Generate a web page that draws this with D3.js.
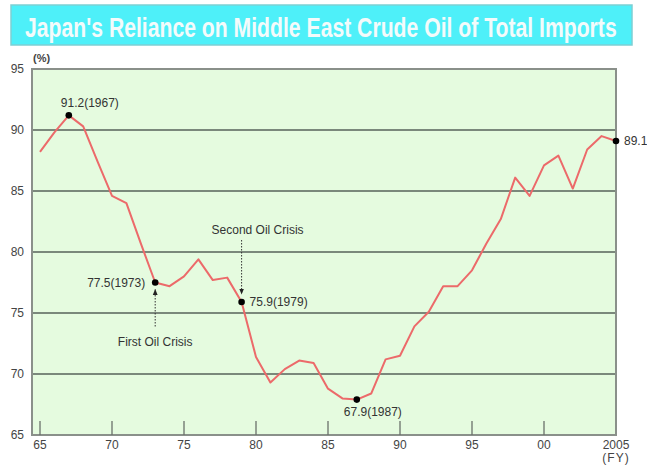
<!DOCTYPE html>
<html>
<head>
<meta charset="utf-8">
<script src="https://cdn.jsdelivr.net/npm/d3@7"></script>
<style>
  html, body { margin: 0; padding: 0; background: #fff; }
  #chart { width: 647px; height: 467px; }
</style>
</head>
<body>
<div id="chart"></div>
<script>
const years = [1965, 1966, 1967, 1968, 1969, 1970, 1971, 1972, 1973, 1974,
  1975, 1976, 1977, 1978, 1979, 1980, 1981, 1982, 1983, 1984,
  1985, 1986, 1987, 1988, 1989, 1990, 1991, 1992, 1993, 1994,
  1995, 1996, 1997, 1998, 1999, 2000, 2001, 2002, 2003, 2004, 2005];
const reliance = [88.2, 89.8, 91.2, 90.3, 87.4, 84.6, 84.0, 80.7, 77.5, 77.2,
  78.0, 79.4, 77.7, 77.9, 75.9, 71.4, 69.3, 70.4, 71.1, 70.9,
  68.8, 68.0, 67.9, 68.4, 71.2, 71.5, 73.9, 75.1, 77.2, 77.2,
  78.5, 80.7, 82.7, 86.1, 84.6, 87.1, 87.9, 85.2, 88.4, 89.5, 89.1];
const xTicks = [1965, 1970, 1975, 1980, 1985, 1990, 1995, 2000, 2005];
const xTickLabels = ['65', '70', '75', '80', '85', '90', '95', '00', '2005'];
const yTicks = [65, 70, 75, 80, 85, 90, 95];
// labelled points: year, text, side
const callouts = [
  { year: 1967, text: '91.2(1967)', pos: 'top' },
  { year: 1973, text: '77.5(1973)', pos: 'left' },
  { year: 1979, text: '75.9(1979)', pos: 'right' },
  { year: 1987, text: '67.9(1987)', pos: 'bottom' },
  { year: 2005, text: '89.1', pos: 'right' }
];
const crises = [
  { year: 1973, text: 'First Oil Crisis', from: 'below' },
  { year: 1979, text: 'Second Oil Crisis', from: 'above' }
];

document.addEventListener('DOMContentLoaded', function () {
  const svg = d3.select('#chart')
    .append('svg')
    .attr('width', 647)
    .attr('height', 467);

  const x = d3.scaleLinear().domain([1965, 2005]).range([40, 616]);
  const y = d3.scaleLinear().domain([65, 95]).range([435, 69]);
  const valueOf = yr => reliance[years.indexOf(yr)];

  // title banner
  svg.append('rect')
    .attr('x', 11).attr('y', 5)
    .attr('width', 621).attr('height', 40)
    .attr('fill', '#4ef0f9')
    .attr('stroke', '#7ccfd4')
    .attr('stroke-width', 1.5);
  const title = svg.append('text')
    .attr('x', 0).attr('y', 0)
    .attr('font-family', '"Liberation Sans Narrow", "Liberation Sans", sans-serif')
    .attr('font-weight', 'bold')
    .attr('font-size', 28)
    .attr('fill', '#f4fbfb')
    .text("Japan's Reliance on Middle East Crude Oil of Total Imports");
  // squeeze it horizontally to the banner width, like the condensed original
  const natural = title.node().getComputedTextLength();
  title.attr('transform', `translate(25,37) scale(${592 / natural},1)`);

  // plot background
  svg.append('rect')
    .attr('x', 32).attr('y', y(95))
    .attr('width', x(2005) - 32).attr('height', y(65) - y(95))
    .attr('fill', '#e5fbdf');

  svg.selectAll('.grid')
    .data(yTicks.filter(d => d > 65 && d < 95))
    .enter().append('line')
    .attr('class', 'grid')
    .attr('x1', 32).attr('x2', x(2005))
    .attr('y1', d => y(d)).attr('y2', d => y(d))
    .attr('stroke', '#56625a')
    .attr('stroke-width', 1.5);

  svg.append('rect')
    .attr('x', 32).attr('y', y(95))
    .attr('width', x(2005) - 32).attr('height', y(65) - y(95))
    .attr('fill', 'none')
    .attr('stroke', '#8a908a')
    .attr('stroke-width', 2);

  // inward x ticks
  svg.selectAll('.tick')
    .data(xTicks.slice(0, -1))
    .enter().append('line')
    .attr('class', 'tick')
    .attr('x1', d => x(d)).attr('x2', d => x(d))
    .attr('y1', y(65) - 14).attr('y2', y(65))
    .attr('stroke', '#6a706a')
    .attr('stroke-width', 1.3);

  const labelFont = '"Liberation Sans", Arial, sans-serif';

  svg.selectAll('.xlabel')
    .data(xTicks)
    .enter().append('text')
    .attr('class', 'xlabel')
    .attr('x', d => x(d)).attr('y', 449)
    .attr('text-anchor', 'middle')
    .attr('font-family', labelFont)
    .attr('font-size', 12)
    .attr('fill', '#444')
    .text((d, i) => xTickLabels[i]);
  svg.append('text')
    .attr('x', x(2005)).attr('y', 462)
    .attr('text-anchor', 'middle')
    .attr('font-family', labelFont)
    .attr('font-size', 12)
    .attr('letter-spacing', 1)
    .attr('fill', '#444')
    .text('(FY)');

  svg.selectAll('.ylabel')
    .data(yTicks)
    .enter().append('text')
    .attr('class', 'ylabel')
    .attr('x', 24).attr('y', d => y(d) + 4)
    .attr('text-anchor', 'end')
    .attr('font-family', labelFont)
    .attr('font-size', 12)
    .attr('fill', '#444')
    .text(d => d);
  svg.append('text')
    .attr('x', 33).attr('y', 62)
    .attr('font-family', labelFont)
    .attr('font-size', 11)
    .attr('font-weight', 'bold')
    .attr('fill', '#444')
    .text('(%)');

  // the series
  const line = d3.line()
    .x((d, i) => x(years[i]))
    .y(d => y(d));
  svg.append('path')
    .datum(reliance)
    .attr('d', line)
    .attr('fill', 'none')
    .attr('stroke', '#ec6a6a')
    .attr('stroke-width', 2)
    .attr('stroke-linejoin', 'round');

  // crisis arrows
  svg.append('defs').append('marker')
    .attr('id', 'arrow')
    .attr('viewBox', '0 0 10 10')
    .attr('refX', 9).attr('refY', 5)
    .attr('markerWidth', 6).attr('markerHeight', 6)
    .attr('orient', 'auto')
    .append('path')
    .attr('d', 'M0,1 L10,5 L0,9 Z')
    .attr('fill', '#222');

  crises.forEach(c => {
    const px = x(c.year);
    const py = y(valueOf(c.year));
    const below = c.from === 'below';
    svg.append('line')
      .attr('x1', px).attr('x2', px)
      .attr('y1', below ? py + 44 : py - 62)
      .attr('y2', below ? py + 7 : py - 8)
      .attr('stroke', '#333')
      .attr('stroke-width', 1)
      .attr('stroke-dasharray', '1.5,1.5')
      .attr('marker-end', 'url(#arrow)');
    svg.append('text')
      .attr('x', below ? px : px + 16)
      .attr('y', below ? py + 63 : py - 68)
      .attr('text-anchor', 'middle')
      .attr('font-family', labelFont)
      .attr('font-size', 12)
      .attr('fill', '#333')
      .text(c.text);
  });

  // labelled dots
  callouts.forEach(c => {
    const px = x(c.year);
    const py = y(valueOf(c.year));
    svg.append('circle')
      .attr('cx', px).attr('cy', py)
      .attr('r', 3.3)
      .attr('fill', '#000');
    const t = svg.append('text')
      .attr('font-family', labelFont)
      .attr('font-size', 12)
      .attr('fill', '#333')
      .text(c.text);
    if (c.pos === 'top') t.attr('x', px - 8).attr('y', py - 8);
    if (c.pos === 'left') t.attr('x', px - 10).attr('y', py + 4).attr('text-anchor', 'end');
    if (c.pos === 'right') t.attr('x', px + 8).attr('y', py + 4);
    if (c.pos === 'bottom') t.attr('x', px - 13).attr('y', py + 16);
  });
});
</script>
</body>
</html>
